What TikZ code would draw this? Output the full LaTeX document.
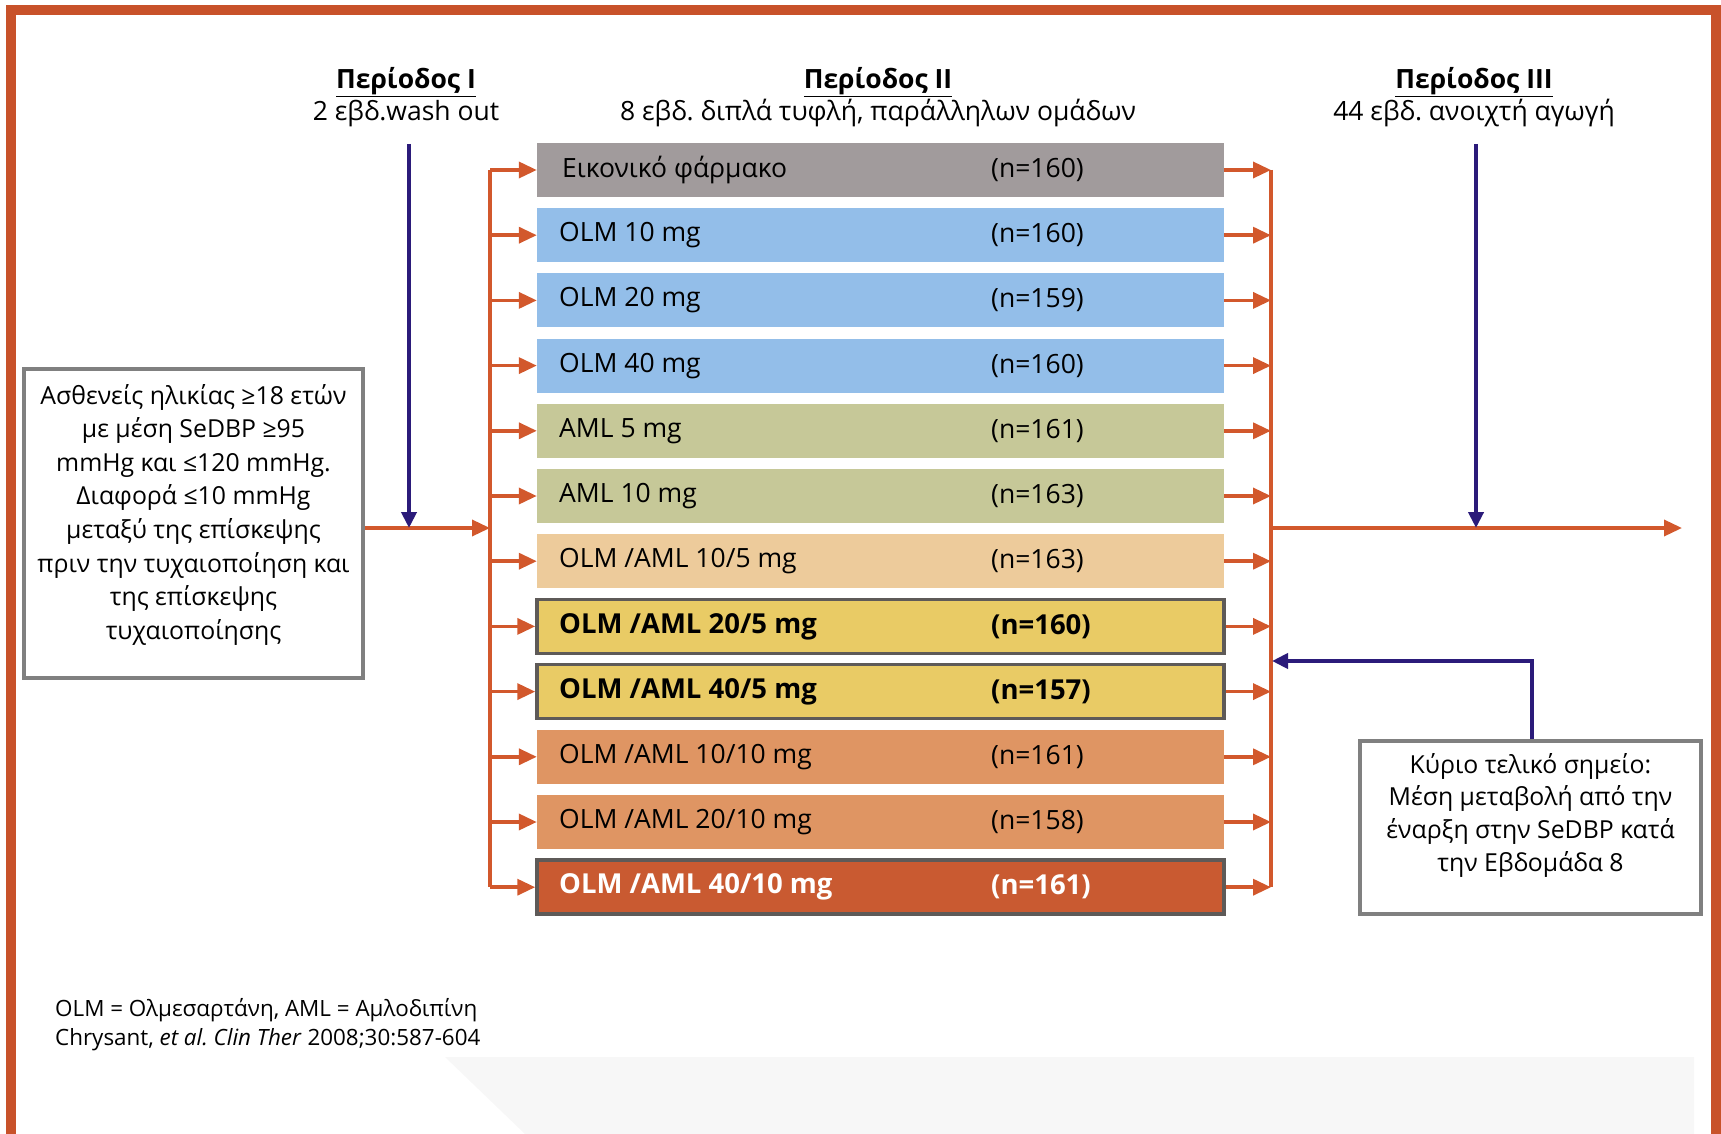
\documentclass[tikz,border=0pt]{standalone}
\usepackage{fontspec}
\setmainfont{Open Sans}
\usetikzlibrary{arrows.meta}
\definecolor{framec}{HTML}{C8522A}
\definecolor{connc}{HTML}{D2582C}
\definecolor{navyc}{HTML}{2B1B7A}
\definecolor{cgray}{HTML}{A19B9C}
\definecolor{cblue}{HTML}{93BEE9}
\definecolor{colive}{HTML}{C6C898}
\definecolor{ctan}{HTML}{EDCB9B}
\definecolor{cyellow}{HTML}{E9CB65}
\definecolor{corange}{HTML}{DF9563}
\definecolor{cred}{HTML}{C95A31}
\definecolor{bordc}{HTML}{5E5A58}
\definecolor{boxc}{HTML}{808080}
\frenchspacing
\tikzset{
  rowbox/.style={rectangle, minimum width=687pt, minimum height=54pt, inner sep=0pt},
  boldrow/.style={draw=bordc, line width=3.5pt},
  lbl/.style={anchor=west, inner sep=0pt, font=\fontsize{26.5}{30}\selectfont},
  blbl/.style={anchor=west, inner sep=0pt, font=\fontsize{27.5}{30}\selectfont\bfseries},
  oline/.style={draw=connc, line width=3.5pt},
  oarrow/.style={draw=connc, line width=3.5pt, -{Triangle[length=18pt,width=16pt]}},
  narrow/.style={draw=navyc, line width=4pt, -{Triangle[length=16pt,width=15pt]}},
  infobox/.style={draw=boxc, line width=4pt, fill=white, inner sep=0pt},
  hdr/.style={align=center, inner sep=0pt, font=\fontsize{26.5}{32}\selectfont},
}
\begin{document}
\begin{tikzpicture}[x=1pt,y=-1pt]
\useasboundingbox (0,0) rectangle (1721,1134);
% faint background shape
\fill[black!3] (445,1057) -- (1694,1057) -- (1694,1134) -- (525,1134) -- cycle;
% frame
\draw[framec, line width=10pt] (10.5,1150) -- (10.5,10) -- (1716,10) -- (1716,1150);

% headers
\node[hdr] (h1) at (406,97) {\underline{\textbf{Περίοδος I}}\\2 εβδ.wash out};
\node[hdr] (h2) at (878,97) {\underline{\textbf{Περίοδος II}}\\8 εβδ. διπλά τυφλή, παράλληλων ομάδων};
\node[hdr] (h3) at (1474,97) {\underline{\textbf{Περίοδος III}}\\44 εβδ. ανοιχτή αγωγή};

% rows
\node[rowbox, fill=cgray]   (r1)  at (880.5,170.0) {};
\node[rowbox, fill=cblue]   (r2)  at (880.5,235.2) {};
\node[rowbox, fill=cblue]   (r3)  at (880.5,300.4) {};
\node[rowbox, fill=cblue]   (r4)  at (880.5,365.6) {};
\node[rowbox, fill=colive]  (r5)  at (880.5,430.8) {};
\node[rowbox, fill=colive]  (r6)  at (880.5,496.0) {};
\node[rowbox, fill=ctan]    (r7)  at (880.5,561.2) {};
\node[rowbox, fill=cyellow, boldrow] (r8)  at (880.5,626.4) {};
\node[rowbox, fill=cyellow, boldrow] (r9)  at (880.5,691.6) {};
\node[rowbox, fill=corange] (r10) at (880.5,756.8) {};
\node[rowbox, fill=corange] (r11) at (880.5,822.0) {};
\node[rowbox, fill=cred, boldrow] (r12) at (880.5,887.2) {};

\node[lbl]  (l1)  at (562,170.0) {Εικονικό φάρμακο};
\node[lbl]  (l2)  at (559,235.2) {OLM 10 mg};
\node[lbl]  (l3)  at (559,300.4) {OLM 20 mg};
\node[lbl]  (l4)  at (559,365.6) {OLM 40 mg};
\node[lbl]  (l5)  at (559,430.8) {AML 5 mg};
\node[lbl]  (l6)  at (559,496.0) {AML 10 mg};
\node[lbl]  (l7)  at (559,561.2) {OLM /AML 10/5 mg};
\node[blbl] (l8)  at (559,626.4) {OLM /AML 20/5 mg};
\node[blbl] (l9)  at (559,691.6) {OLM /AML 40/5 mg};
\node[lbl]  (l10) at (559,756.8) {OLM /AML 10/10 mg};
\node[lbl]  (l11) at (559,822.0) {OLM /AML 20/10 mg};
\node[blbl, text=white] (l12) at (559,887.2) {OLM /AML 40/10 mg};

\node[lbl]  (n1)  at (991,170.0) {(n=160)};
\node[lbl]  (n2)  at (991,235.2) {(n=160)};
\node[lbl]  (n3)  at (991,300.4) {(n=159)};
\node[lbl]  (n4)  at (991,365.6) {(n=160)};
\node[lbl]  (n5)  at (991,430.8) {(n=161)};
\node[lbl]  (n6)  at (991,496.0) {(n=163)};
\node[lbl]  (n7)  at (991,561.2) {(n=163)};
\node[blbl] (n8)  at (991,626.4) {(n=160)};
\node[blbl] (n9)  at (991,691.6) {(n=157)};
\node[lbl]  (n10) at (991,756.8) {(n=161)};
\node[lbl]  (n11) at (991,822.0) {(n=158)};
\node[blbl, text=white] (n12) at (991,887.2) {(n=161)};

% left input box
\node[infobox, minimum width=339pt, minimum height=309pt] (inbox) at (193.5,523.5) {};
\node[align=center, inner sep=0pt, font=\fontsize{24.8}{33.6}\selectfont, anchor=north] (intext) at (193.5,384)
 {Ασθενείς ηλικίας ≥18 ετών\\με μέση SeDBP ≥95\\mmHg και ≤120 mmHg.\\Διαφορά ≤10 mmHg\\μεταξύ της επίσκεψης\\πριν την τυχαιοποίηση και\\της επίσκεψης\\τυχαιοποίησης};

% right endpoint box
\node[infobox, minimum width=341pt, minimum height=173pt] (rbox) at (1530.5,827.5) {};
\node[align=center, inner sep=0pt, font=\fontsize{24.8}{32.6}\selectfont, anchor=north] (rtext) at (1530.5,753)
 {Κύριο τελικό σημείο:\\Μέση μεταβολή από την\\έναρξη στην SeDBP κατά\\την Εβδομάδα 8};

% coordinates
\coordinate (lbus) at (490,0);
\coordinate (rbus) at (1271,0);
\coordinate (lin) at (490,528);
\coordinate (rout) at (1271,528);
\coordinate (outend) at (1682,528);
\coordinate (p1top) at (409,144);
\coordinate (p1bot) at (409,528);
\coordinate (p3top) at (1476,144);
\coordinate (p3bot) at (1476,528);
\coordinate (fb) at (1272,661);

% buses
\draw[oline] (lbus |- r1.west) -- (lbus |- r12.west);
\draw[oline] (rbus |- r1.east) -- (rbus |- r12.east);
\foreach \i in {1,...,12} {
  \draw[oarrow] (lbus |- r\i.west) -- (r\i.west);
  \draw[oarrow] (r\i.east) -- (rbus |- r\i.east);
}
\draw[oarrow] (inbox.east |- lin) -- (lin);
\draw[oarrow] (rout) -- (outend);

% navy arrows
\draw[narrow] (p1top) -- (p1bot);
\draw[narrow] (p3top) -- (p3bot);
\draw[narrow] ([xshift=1.5pt]rbox.north) |- (fb);

% footnote
\node[anchor=west, inner sep=0pt, font=\fontsize{22.4}{26}\selectfont] (fn1) at (55,1010) {OLM = Ολμεσαρτάνη, AML = Αμλοδιπίνη};
\node[anchor=west, inner sep=0pt, font=\fontsize{22.4}{26}\selectfont] (fn2) at (55,1040) {Chrysant, \textit{et al.} \textit{Clin Ther} 2008;30:587-604};
\end{tikzpicture}
\end{document}
